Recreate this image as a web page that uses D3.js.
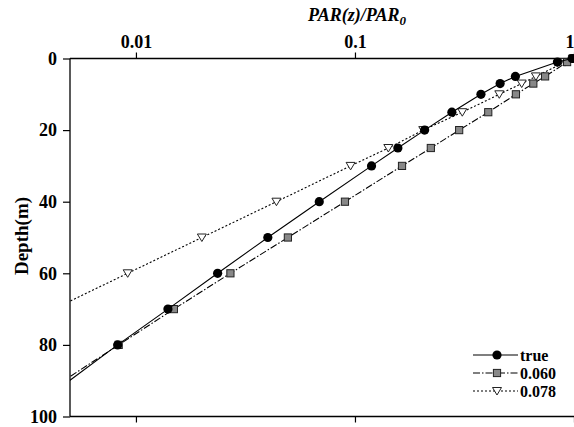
<!DOCTYPE html>
<html>
<head>
<meta charset="utf-8">
<script src="https://cdn.jsdelivr.net/npm/d3@7"></script>
<style>
  body { margin: 0; background: #fff; }
  svg { display: block; font-family: "Liberation Serif", "Times New Roman", serif; }
</style>
</head>
<body>
<svg id="chart" width="574" height="427"></svg>
<script>
// depth (m) and relative PAR for each curve
var depthTrue = [0, 1, 5, 7, 10, 15, 20, 25, 30, 40, 50, 60, 70, 80, 90];
var parTrue = [0.98, 0.84, 0.54, 0.46, 0.376, 0.277, 0.208, 0.157, 0.119, 0.0687, 0.040, 0.0236, 0.0140, 0.00825, 0.00497];

var depth060 = [0, 1, 5, 7, 10, 15, 20, 25, 30, 40, 50, 60, 70, 80, 90];
var par060 = [0.99, 0.93, 0.738, 0.652, 0.543, 0.406, 0.299, 0.222, 0.164, 0.090, 0.0494, 0.027, 0.0149, 0.00834, 0.00468];

var depth078 = [0, 1, 5, 7, 10, 15, 20, 25, 30, 40, 50, 60, 70];
var par078 = [0.99, 0.91, 0.67, 0.577, 0.456, 0.309, 0.205, 0.142, 0.0955, 0.0438, 0.020, 0.00917, 0.0042];

var xTicks = [0.01, 0.1, 1];
var yTicks = [0, 20, 40, 60, 80, 100];
var seriesNames = ["true", "0.060", "0.078"];

var svg = d3.select("#chart");
var pLeft = 70, pRight = 574, pTop = 58.5, pBottom = 416.5;

var x = d3.scaleLog().domain([0.005, 1]).range([pLeft, pRight]);
var y = d3.scaleLinear().domain([0, 100]).range([pTop, pBottom]);

svg.append("defs").append("clipPath").attr("id", "plot")
  .append("rect").attr("x", pLeft).attr("y", pTop - 6)
  .attr("width", pRight - pLeft + 6).attr("height", pBottom - pTop + 6);

// axes
var topAxis = svg.append("g").attr("transform", "translate(0," + pTop + ")")
  .call(d3.axisTop(x).tickValues(xTicks).tickSize(6).tickFormat(d3.format("")));
var botAxis = svg.append("g").attr("transform", "translate(0," + pBottom + ")")
  .call(d3.axisBottom(x).tickValues(xTicks).tickSize(6).tickFormat(""));
var leftAxis = svg.append("g").attr("transform", "translate(" + pLeft + ",0)")
  .call(d3.axisLeft(y).tickValues(yTicks).tickSize(7).tickPadding(6));

[topAxis, botAxis, leftAxis].forEach(function(a){
  a.select(".domain").attr("stroke", "#000").attr("stroke-width", 1.3);
  a.selectAll(".tick line").attr("stroke", "#000").attr("stroke-width", 1.2);
  a.selectAll("text").attr("fill", "#000")
    .style("font-family", "Liberation Serif").style("font-size", "18px").style("font-weight", "bold");
});
topAxis.selectAll("text").attr("dy", "-0.1em");
// last label sits at the window edge, keep it inside
topAxis.selectAll(".tick text").filter(function(d){ return d === 1; }).attr("text-anchor", "end");
// the domain path has end ticks; redraw plain lines
topAxis.select(".domain").attr("d", "M" + pLeft + ",0H" + pRight);
botAxis.select(".domain").attr("d", "M" + pLeft + ",0H" + pRight);
leftAxis.select(".domain").attr("d", "M0," + pTop + "V" + pBottom);

// titles
var title = svg.append("text").attr("x", 357).attr("y", 21).attr("text-anchor", "middle")
  .style("font-size", "18px").style("font-weight", "bold").style("font-style", "italic");
title.append("tspan").text("PAR(z)/PAR");
title.append("tspan").attr("dy", 4).style("font-size", "13px").text("0");

svg.append("text").attr("transform", "translate(28,236) rotate(-90)")
  .attr("text-anchor", "middle").style("font-size", "19px").style("font-weight", "bold")
  .text("Depth(m)");

var line = d3.line().x(function(d){ return x(d[0]); }).y(function(d){ return y(d[1]); });

var series = [
  {par: parTrue, depth: depthTrue, dash: null, marker: "circle"},
  {par: par060, depth: depth060, dash: "7,2,1.5,2", marker: "square"},
  {par: par078, depth: depth078, dash: "2,2", marker: "triangle"}
];

var plot = svg.append("g").attr("clip-path", "url(#plot)");

function drawMarker(g, kind, cx, cy) {
  if (kind === "circle") {
    g.append("circle").attr("cx", cx).attr("cy", cy).attr("r", 4.6).attr("fill", "#000");
  } else if (kind === "square") {
    g.append("rect").attr("x", cx - 3.6).attr("y", cy - 3.6).attr("width", 7.2).attr("height", 7.2)
      .attr("fill", "#888").attr("stroke", "#222").attr("stroke-width", 1);
  } else {
    g.append("path").attr("d", "M" + (cx - 4.5) + "," + (cy - 3.5) + "L" + (cx + 4.5) + "," + (cy - 3.5) + "L" + cx + "," + (cy + 4) + "Z")
      .attr("fill", "#fff").attr("stroke", "#222").attr("stroke-width", 1);
  }
}

// draw in reverse so the 'true' curve sits on top
series.slice().reverse().forEach(function(s){
  var pts = s.par.map(function(v, i){ return [v, s.depth[i]]; });
  plot.append("path").datum(pts).attr("d", line).attr("fill", "none")
    .attr("stroke", "#000").attr("stroke-width", 1.1)
    .attr("stroke-dasharray", s.dash);
  pts.forEach(function(p){
    if (p[0] >= 0.005) drawMarker(plot, s.marker, x(p[0]), y(p[1]));
  });
});

// legend
var legY = [355, 373, 391];
series.forEach(function(s, i){
  var g = svg.append("g");
  g.append("line").attr("x1", 473).attr("x2", 518).attr("y1", legY[i]).attr("y2", legY[i])
    .attr("stroke", "#000").attr("stroke-width", 1.1).attr("stroke-dasharray", s.dash);
  drawMarker(g, s.marker, 497, legY[i]);
  g.append("text").attr("x", 520).attr("y", legY[i] + 5.5)
    .style("font-size", "16px").style("font-weight", "bold").text(seriesNames[i]);
});
</script>
</body>
</html>
